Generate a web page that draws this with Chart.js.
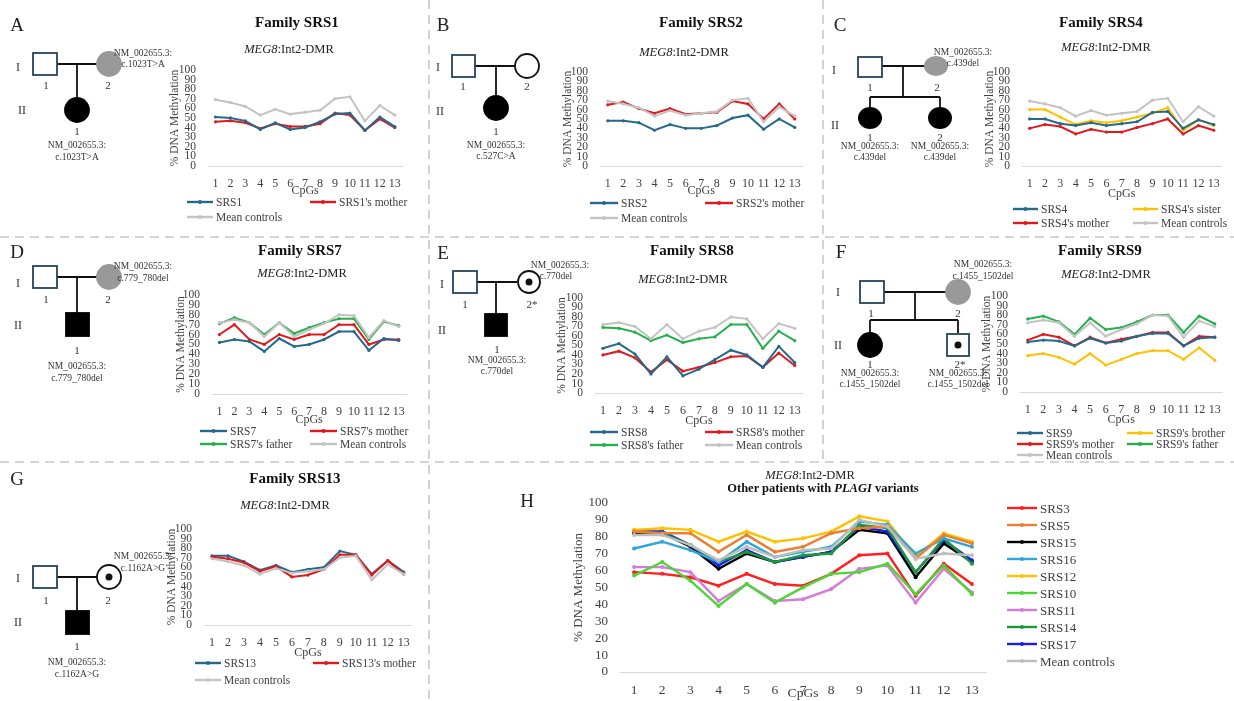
<!DOCTYPE html>
<html>
<head>
<meta charset="utf-8">
<script src="https://cdn.jsdelivr.net/npm/chart.js@4.4.0/dist/chart.umd.min.js"></script>
<style>
body{margin:0;width:1234px;height:701px;background:#fff;position:relative;overflow:hidden;font-family:"Liberation Serif",serif}
canvas{position:absolute}
#overlay{position:absolute;left:0;top:0;z-index:5;pointer-events:none}
</style>
</head>
<body>
<svg id="overlay" width="1234" height="701" font-family="Liberation Serif, serif"></svg>
<script>
// --- Data ---
const cpgs = ['1','2','3','4','5','6','7','8','9','10','11','12','13'];

// A - SRS1
const srs1       = [51, 50, 47, 38, 45, 38, 40, 46, 54, 55, 37, 51, 41];
const srs1Mother = [46, 47, 45, 39, 44, 41, 41, 44, 55, 53, 37, 49, 40];
const controlsA  = [69, 66, 62, 53, 59, 54, 56, 58, 70, 72, 47, 63, 53];
// B - SRS2
const srs2       = [48, 48, 46, 38, 44, 40, 40, 43, 51, 54, 39, 50, 41];
const srs2Mother = [65, 68, 61, 56, 61, 55, 56, 57, 69, 66, 50, 66, 50];
const controlsB  = [69, 66, 62, 53, 59, 54, 56, 58, 70, 72, 47, 63, 53];
// C - SRS4
const srs4       = [50, 50, 45, 43, 46, 43, 45, 47, 57, 58, 40, 49, 44];
const srs4Sister = [60, 60, 52, 44, 48, 46, 48, 52, 56, 62, 38, 49, 43];
const srs4Mother = [40, 44, 42, 34, 39, 36, 36, 41, 45, 50, 34, 43, 38];
const controlsC  = [69, 66, 62, 53, 59, 54, 56, 58, 70, 72, 47, 63, 53];
// D - SRS7
const srs7       = [52, 55, 53, 43, 56, 48, 50, 55, 63, 63, 44, 56, 54];
const srs7Mother = [60, 70, 55, 50, 60, 55, 60, 60, 70, 70, 50, 55, 55];
const srs7Father = [71, 77, 72, 60, 72, 61, 67, 72, 76, 76, 55, 73, 69];
const controlsD  = [72, 75, 72, 58, 72, 58, 65, 71, 80, 79, 57, 74, 68];
// E - SRS8
const srs8       = [47, 52, 41, 20, 38, 18, 25, 35, 45, 40, 27, 49, 32];
const srs8Mother = [40, 44, 37, 22, 35, 23, 27, 32, 38, 39, 27, 42, 29];
const srs8Father = [69, 68, 64, 55, 61, 53, 57, 59, 72, 72, 47, 65, 55];
const controlsE  = [72, 74, 70, 57, 72, 57, 65, 69, 80, 78, 57, 73, 68];
// F - SRS9
const srs9        = [52, 54, 53, 48, 56, 51, 53, 58, 61, 61, 48, 56, 57];
const srs9Brother = [38, 40, 36, 29, 40, 28, 34, 40, 43, 43, 34, 46, 33];
const srs9Mother  = [54, 60, 57, 48, 57, 51, 55, 58, 62, 62, 48, 58, 57];
const srs9Father  = [76, 79, 73, 60, 77, 65, 67, 73, 80, 80, 62, 79, 71];
const controlsF   = [72, 75, 72, 58, 72, 58, 65, 71, 80, 79, 57, 74, 68];
// G - SRS13
const srs13       = [72, 72, 66, 57, 62, 55, 58, 60, 77, 73, 53, 67, 55];
const srs13Mother = [71, 69, 65, 56, 61, 50, 52, 58, 73, 73, 52, 67, 53];
const controlsG   = [69, 66, 62, 53, 59, 54, 56, 58, 70, 72, 47, 63, 53];
// H - other patients
const srs3  = [59, 58, 56, 51, 58, 52, 51, 58, 69, 70, 45, 64, 52];
const srs5  = [83, 82, 82, 71, 81, 71, 74, 82, 85, 86, 67, 81, 76];
const srs15 = [82, 82, 74, 61, 70, 65, 68, 71, 84, 82, 56, 76, 65];
const srs16 = [73, 77, 72, 65, 77, 68, 71, 74, 89, 87, 70, 79, 74];
const srs12 = [84, 85, 84, 77, 83, 77, 79, 83, 92, 89, 68, 82, 77];
const srs10 = [57, 65, 54, 39, 52, 41, 50, 58, 59, 64, 46, 63, 46];
const srs11 = [62, 62, 59, 42, 52, 42, 43, 49, 61, 63, 41, 61, 47];
const srs14 = [83, 82, 75, 65, 71, 65, 69, 70, 87, 85, 59, 79, 64];
const srs17 = [83, 83, 75, 63, 72, 65, 68, 71, 86, 83, 59, 78, 66];
const controlsH = [81, 81, 75, 66, 74, 68, 72, 73, 90, 86, 67, 70, 69];

// colours
const BLUE = '#24698c', RED = '#e0191c', GREY = '#c3c3c3', GREEN = '#25b04c', YELLOW = '#ffc000';

const svg = document.getElementById('overlay');
const NS = 'http://www.w3.org/2000/svg';
function el(tag, attrs, text) {
    const e = document.createElementNS(NS, tag);
    for (const k in attrs) e.setAttribute(k, attrs[k]);
    if (text !== undefined) e.textContent = text;
    svg.appendChild(e);
    return e;
}
function txt(x, y, s, size, extra) {
    return el('text', Object.assign({x, y, 'font-size': size, 'text-anchor': 'middle', 'dominant-baseline': 'central', fill: '#333'}, extra || {}), s);
}
function line(x1, y1, x2, y2, col, w) {
    el('line', {x1, y1, x2, y2, stroke: col || '#111', 'stroke-width': w || 1.8});
}

// --- Chart panels ---
function panel(g, series) {
    const pt = 8, pr = 6;
    const W = g.r - g.l + g.yw + pr, H = g.b - g.t + pt + g.xh;
    const cv = document.createElement('canvas');
    cv.width = W; cv.height = H;
    cv.style.left = (g.l - g.yw) + 'px';
    cv.style.top = (g.t - pt) + 'px';
    document.body.appendChild(cv);
    const fs = g.fs || 11.5;
    new Chart(cv, {
        type: 'line',
        data: {labels: cpgs, datasets: series.map(s => ({
            label: s.label, data: s.data, borderColor: s.color, backgroundColor: s.color,
            borderWidth: g.lw || 2, pointRadius: g.pr || 1.6, pointBorderWidth: 0, tension: 0
        }))},
        options: {
            responsive: false, animation: false, events: [],
            layout: {padding: {top: pt, right: pr, left: 0, bottom: 0}},
            plugins: {legend: {display: false}, tooltip: {enabled: false}},
            scales: {
                x: {offset: true, grid: {display: false, drawTicks: false}, border: {display: true, color: '#d9d9d9', width: 1},
                    ticks: {font: {family: 'Liberation Serif', size: fs + 0.5}, color: '#404040', padding: g.xpad || 11, maxRotation: 0, autoSkip: false},
                    title: {display: true, text: 'CpGs', font: {family: 'Liberation Serif', size: fs + 0.5}, color: '#404040', padding: {top: 0, bottom: 0}},
                    afterFit: s => { s.height = g.xh; }},
                y: {min: 0, max: 100, grid: {display: false}, border: {display: false},
                    ticks: {stepSize: 10, autoSkip: false, font: {family: 'Liberation Serif', size: fs}, color: '#404040', padding: 4},
                    title: {display: true, text: '% DNA Methylation', font: {family: 'Liberation Serif', size: fs}, color: '#404040', padding: 0},
                    afterFit: s => { s.width = g.yw; }}
            }
        }
    });
}
function legend(items, len, fs) {
    items.forEach(it => {
        line(it.x, it.y, it.x + len, it.y, it.color, 2.4);
        el('circle', {cx: it.x + len / 2, cy: it.y, r: 2, fill: it.color});
        txt(it.x + len + 3, it.y, it.label, fs, {'text-anchor': 'start', fill: '#404040'});
    });
}
function subtitle(x, y) {
    const t = txt(x, y, '', 12.5, {fill: '#222'});
    const a = document.createElementNS(NS, 'tspan'); a.setAttribute('font-style', 'italic'); a.textContent = 'MEG8';
    const b = document.createElementNS(NS, 'tspan'); b.textContent = ':Int2-DMR';
    t.appendChild(a); t.appendChild(b);
}

panel({l: 208, r: 406, t: 67, b: 166, yw: 40, xh: 32}, [
    {label: 'Mean controls', data: controlsA, color: GREY},
    {label: 'SRS1', data: srs1, color: BLUE},
    {label: "SRS1's mother", data: srs1Mother, color: RED}]);
panel({l: 600, r: 806, t: 69, b: 166, yw: 39, xh: 32}, [
    {label: 'SRS2', data: srs2, color: BLUE},
    {label: 'Mean controls', data: controlsB, color: GREY},
    {label: "SRS2's mother", data: srs2Mother, color: RED}]);
panel({l: 1022, r: 1225, t: 69, b: 166, yw: 39, xh: 35}, [
    {label: 'Mean controls', data: controlsC, color: GREY},
    {label: 'SRS4', data: srs4, color: BLUE},
    {label: "SRS4's sister", data: srs4Sister, color: YELLOW},
    {label: "SRS4's mother", data: srs4Mother, color: RED}]);
panel({l: 212, r: 410, t: 292, b: 394, yw: 38, xh: 33}, [
    {label: 'Mean controls', data: controlsD, color: GREY},
    {label: "SRS7's father", data: srs7Father, color: GREEN},
    {label: 'SRS7', data: srs7, color: BLUE},
    {label: "SRS7's mother", data: srs7Mother, color: RED}]);
panel({l: 595, r: 806, t: 295, b: 393, yw: 40, xh: 35}, [
    {label: 'Mean controls', data: controlsE, color: GREY},
    {label: "SRS8's father", data: srs8Father, color: GREEN},
    {label: 'SRS8', data: srs8, color: BLUE},
    {label: "SRS8's mother", data: srs8Mother, color: RED}]);
panel({l: 1020, r: 1226, t: 293, b: 392, yw: 40, xh: 35}, [
    {label: 'Mean controls', data: controlsF, color: GREY},
    {label: "SRS9's father", data: srs9Father, color: GREEN},
    {label: "SRS9's brother", data: srs9Brother, color: YELLOW},
    {label: 'SRS9', data: srs9, color: BLUE},
    {label: "SRS9's mother", data: srs9Mother, color: RED}]);
panel({l: 204, r: 415, t: 526, b: 625, yw: 39, xh: 35}, [
    {label: 'Mean controls', data: controlsG, color: GREY},
    {label: "SRS13's mother", data: srs13Mother, color: RED},
    {label: 'SRS13', data: srs13, color: BLUE}]);
panel({l: 620, r: 986, t: 499, b: 672, yw: 49, xh: 30, fs: 13, xpad: 10, lw: 2.4, pr: 2}, [
    {label: 'Mean controls', data: controlsH, color: '#bdbdbd'},
    {label: 'SRS5', data: srs5, color: '#ed7d31'},
    {label: 'SRS16', data: srs16, color: '#2ea6d6'},
    {label: 'SRS12', data: srs12, color: '#ffc000'},
    {label: 'SRS14', data: srs14, color: '#1a9a38'},
    {label: 'SRS17', data: srs17, color: '#1c1ce6'},
    {label: 'SRS15', data: srs15, color: '#000000'},
    {label: 'SRS10', data: srs10, color: '#4cd636'},
    {label: 'SRS11', data: srs11, color: '#d77bd8'},
    {label: 'SRS3', data: srs3, color: '#ff1f1f'}]);

// --- Separators ---
const dash = {stroke: '#c8c8c8', 'stroke-width': 1.6, 'stroke-dasharray': '9 6'};
el('line', Object.assign({x1: 0, y1: 237, x2: 1234, y2: 237}, dash));
el('line', Object.assign({x1: 0, y1: 462, x2: 1234, y2: 462}, dash));
el('line', Object.assign({x1: 429, y1: 0, x2: 429, y2: 701}, dash));
el('line', Object.assign({x1: 823, y1: 0, x2: 823, y2: 462}, dash));

// --- Panel letters, titles, subtitles ---
[['A', 17, 24], ['B', 443, 24], ['C', 840, 24], ['D', 17, 251], ['E', 443, 252], ['F', 841, 251], ['G', 17, 478], ['H', 527, 500]]
    .forEach(([s, x, y]) => txt(x, y, s, 19, {fill: '#222'}));
[['Family SRS1', 297, 22], ['Family SRS2', 701, 22], ['Family SRS4', 1101, 22], ['Family SRS7', 300, 250],
 ['Family SRS8', 692, 250], ['Family SRS9', 1100, 250], ['Family SRS13', 295, 478]]
    .forEach(([s, x, y]) => txt(x, y, s, 15, {'font-weight': 'bold', fill: '#111'}));
subtitle(289, 49); subtitle(684, 52); subtitle(1106, 47);
subtitle(302, 273); subtitle(683, 279); subtitle(1106, 274); subtitle(285, 505);
subtitle(810, 475);
{
    const t = txt(823, 488, '', 12.5, {'font-weight': 'bold', fill: '#111'});
    const a = document.createElementNS(NS, 'tspan'); a.textContent = 'Other patients with ';
    const b = document.createElementNS(NS, 'tspan'); b.setAttribute('font-style', 'italic'); b.textContent = 'PLAGI';
    const c = document.createElementNS(NS, 'tspan'); c.textContent = ' variants';
    t.appendChild(a); t.appendChild(b); t.appendChild(c);
}

// --- Legends ---
legend([{x: 187, y: 202, label: 'SRS1', color: BLUE}, {x: 310, y: 202, label: "SRS1's mother", color: RED},
        {x: 187, y: 217, label: 'Mean controls', color: GREY}], 26, 11.5);
legend([{x: 590, y: 203, label: 'SRS2', color: BLUE}, {x: 705, y: 203, label: "SRS2's mother", color: RED},
        {x: 590, y: 218, label: 'Mean controls', color: GREY}], 28, 11.5);
legend([{x: 1013, y: 209, label: 'SRS4', color: BLUE}, {x: 1133, y: 209, label: "SRS4's sister", color: YELLOW},
        {x: 1013, y: 223, label: "SRS4's mother", color: RED}, {x: 1133, y: 223, label: 'Mean controls', color: GREY}], 25, 11.5);
legend([{x: 200, y: 431, label: 'SRS7', color: BLUE}, {x: 310, y: 431, label: "SRS7's mother", color: RED},
        {x: 200, y: 444, label: "SRS7's father", color: GREEN}, {x: 310, y: 444, label: 'Mean controls', color: GREY}], 27, 11.5);
legend([{x: 590, y: 432, label: 'SRS8', color: BLUE}, {x: 705, y: 432, label: "SRS8's mother", color: RED},
        {x: 590, y: 445, label: "SRS8's father", color: GREEN}, {x: 705, y: 445, label: 'Mean controls', color: GREY}], 28, 11.5);
legend([{x: 1017, y: 433, label: 'SRS9', color: BLUE}, {x: 1127, y: 433, label: "SRS9's brother", color: YELLOW},
        {x: 1017, y: 444, label: "SRS9's mother", color: RED}, {x: 1127, y: 444, label: "SRS9's father", color: GREEN},
        {x: 1017, y: 455, label: 'Mean controls', color: GREY}], 26, 11.5);
legend([{x: 195, y: 663, label: 'SRS13', color: BLUE}, {x: 313, y: 663, label: "SRS13's mother", color: RED},
        {x: 195, y: 680, label: 'Mean controls', color: GREY}], 26, 11.5);
legend([['SRS3', '#ff1f1f'], ['SRS5', '#ed7d31'], ['SRS15', '#000000'], ['SRS16', '#2ea6d6'], ['SRS12', '#ffc000'],
        ['SRS10', '#4cd636'], ['SRS11', '#d77bd8'], ['SRS14', '#1a9a38'], ['SRS17', '#1c1ce6'], ['Mean controls', '#bdbdbd']]
        .map(([label, color], i) => ({x: 1007, y: 508 + i * 17, label, color})), 30, 13);

// --- Pedigrees ---
const SQ = '#24445f';
function square(x, y, w, h, fill) { el('rect', {x, y, width: w, height: h, fill: fill || '#fff', stroke: fill ? fill : SQ, 'stroke-width': 1.8}); }
function circle(cx, cy, r, fill, stroke) { el('circle', {cx, cy, r, fill, stroke: stroke || fill, 'stroke-width': 1.8}); }
function ellipse(cx, cy, rx, ry, fill) { el('ellipse', {cx, cy, rx, ry, fill}); }
const PF = 9.5;

// A
txt(18, 67, 'I', 12); txt(22, 110, 'II', 12);
line(57, 64, 97, 64); line(77, 64, 77, 98);
square(33, 53, 24, 22); circle(109, 64, 12, '#999');
circle(77, 110, 12, '#000');
txt(46, 85, '1', 11); txt(108, 85, '2', 11); txt(77, 131, '1', 11);
txt(143, 53, 'NM_002655.3:', PF); txt(143, 64, 'c.1023T>A', PF);
txt(77, 145, 'NM_002655.3:', PF); txt(77, 157, 'c.1023T>A', PF);
// B
txt(438, 67, 'I', 12); txt(440, 111, 'II', 12);
line(475, 66, 515, 66); line(496, 66, 496, 97);
square(452, 55, 23, 22); circle(527, 66, 12, '#fff', '#111');
circle(496, 108, 12, '#000');
txt(463, 86, '1', 11); txt(527, 86, '2', 11); txt(496, 131, '1', 11);
txt(496, 145, 'NM_002655.3:', PF); txt(496, 156, 'c.527C>A', PF);
// C
txt(834, 70, 'I', 12); txt(835, 125, 'II', 12);
line(882, 66, 925, 66); line(903, 66, 903, 97); line(870, 97, 940, 97);
line(870, 97, 870, 108); line(940, 97, 940, 108);
square(858, 57, 24, 20); ellipse(936, 66, 12, 10, '#999');
ellipse(870, 118, 12, 11, '#000'); ellipse(940, 118, 12, 11, '#000');
txt(870, 87, '1', 11); txt(937, 87, '2', 11);
txt(870, 137, '1', 11); txt(940, 137, '2', 11);
txt(870, 146, 'NM_002655.3:', PF); txt(870, 157, 'c.439del', PF);
txt(940, 146, 'NM_002655.3:', PF); txt(940, 157, 'c.439del', PF);
txt(963, 52, 'NM_002655.3:', PF); txt(963, 63, 'c.439del', PF);
// D
txt(18, 283, 'I', 12); txt(18, 325, 'II', 12);
line(57, 277, 97, 277); line(77, 277, 77, 313);
square(33, 266, 24, 22); circle(109, 277, 12, '#999');
square(66, 313, 23, 23, '#000');
txt(46, 299, '1', 11); txt(108, 299, '2', 11); txt(77, 350, '1', 11);
txt(77, 366, 'NM_002655.3:', PF); txt(77, 378, 'c.779_780del', PF);
txt(143, 266, 'NM_002655.3:', PF); txt(143, 278, 'c.779_780del', PF);
// E
txt(442, 284, 'I', 12); txt(442, 330, 'II', 12);
line(477, 282, 517, 282); line(496, 282, 496, 314);
square(453, 271, 24, 22); circle(529, 282, 11, '#fff', '#111'); circle(529, 282, 2.6, '#111');
square(485, 314, 22, 22, '#000');
txt(465, 304, '1', 11); txt(532, 304, '2*', 11); txt(497, 349, '1', 11);
txt(497, 360, 'NM_002655.3:', PF); txt(497, 371, 'c.770del', PF);
txt(560, 265, 'NM_002655.3:', PF); txt(556, 276, 'c.770del', PF);
// F
txt(838, 292, 'I', 12); txt(838, 345, 'II', 12);
line(884, 292, 946, 292); line(915, 292, 915, 320); line(870, 320, 958, 320);
line(870, 320, 870, 333); line(958, 320, 958, 333);
square(860, 281, 24, 22); circle(958, 292, 12, '#999');
circle(870, 345, 12, '#000');
square(947, 334, 22, 22); circle(958, 345, 2.6, '#111');
txt(871, 313, '1', 11); txt(958, 313, '2', 11);
txt(870, 364, '1', 11); txt(960, 364, '2*', 11);
txt(870, 373, 'NM_002655.3:', PF); txt(870, 384, 'c.1455_1502del', PF);
txt(958, 373, 'NM_002655.3:', PF); txt(958, 384, 'c.1455_1502del', PF);
txt(983, 264, 'NM_002655.3:', PF); txt(983, 276, 'c.1455_1502del', PF);
// G
txt(18, 578, 'I', 12); txt(18, 622, 'II', 12);
line(57, 577, 97, 577); line(77, 577, 77, 611);
square(33, 566, 24, 22); circle(109, 577, 12, '#fff', '#111'); circle(109, 577, 2.6, '#111');
square(66, 611, 23, 23, '#000');
txt(46, 600, '1', 11); txt(108, 600, '2', 11); txt(77, 646, '1', 11);
txt(77, 662, 'NM_002655.3:', PF); txt(77, 674, 'c.1162A>G', PF);
txt(143, 556, 'NM_002655.3:', PF); txt(143, 568, 'c.1162A>G', PF);
</script>
</body>
</html>
